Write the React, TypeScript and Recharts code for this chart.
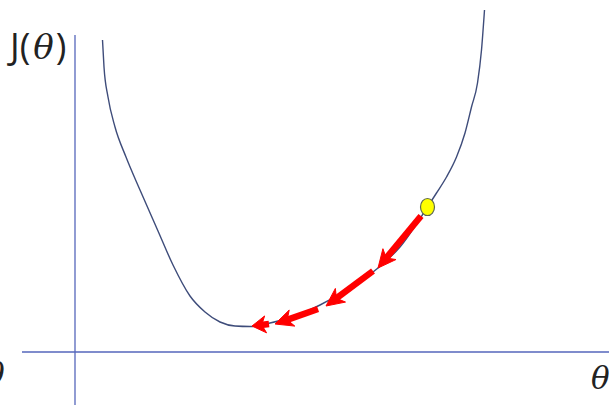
import React from 'react';
import { ComposedChart, Line, XAxis, YAxis, ReferenceLine, ReferenceDot } from 'recharts';

// cost curve J(θ)
const thetas = [0.55, 0.58, 0.66, 0.8, 1.02, 1.3, 1.66, 1.96, 2.3, 2.6, 2.9, 3.2, 3.5, 3.9, 4.4, 4.9, 5.5, 6.06, 6.5, 7.05, 7.23, 7.43, 7.63, 7.8, 7.93, 8.05, 8.13, 8.19];
const costs = [6.24, 5.7, 5.1, 4.5, 3.9, 3.24, 2.42, 1.74, 1.12, 0.8, 0.6, 0.52, 0.51, 0.58, 0.72, 0.94, 1.28, 1.68, 2.1, 2.9, 3.18, 3.5, 3.9, 4.38, 4.9, 5.38, 6.04, 6.84];

// gradient descent steps (from -> to)
const stepFromTheta = [6.92, 5.96, 4.86, 3.88];
const stepFromCost = [2.72, 1.62, 0.86, 0.56];
const stepToTheta = [6.06, 5.02, 4.0, 3.54];
const stepToCost = [1.68, 0.92, 0.56, 0.52];

const startPoint = { theta: 7.05, cost: 2.9 };

const data = thetas.map((t, i) => ({ theta: t, cost: costs[i] }));

const AXIS = '#5566bb';
const RED = '#ff0000';

const StepArrow = (props: any) => {
  const { x1, y1, x2, y2 } = props;
  const dx = x2 - x1;
  const dy = y2 - y1;
  const len = Math.hypot(dx, dy) || 1;
  const ux = dx / len;
  const uy = dy / len;
  const nx = -uy;
  const ny = ux;
  const head = Math.min(18, len * 0.8);
  const half = 8.5;
  const bx = x2 - ux * head;
  const by = y2 - uy * head;
  const kx = x2 - ux * head * 0.72;
  const ky = y2 - uy * head * 0.72;
  const pts = [
    [x2, y2],
    [bx + nx * half, by + ny * half],
    [kx, ky],
    [bx - nx * half, by - ny * half],
  ]
    .map((p) => p.join(','))
    .join(' ');
  return (
    <g>
      <line x1={x1} y1={y1} x2={kx + ux} y2={ky + uy} stroke={RED} strokeWidth={6.5} />
      <polygon points={pts} fill={RED} stroke={RED} strokeWidth={1} strokeLinejoin="round" />
    </g>
  );
};

const YellowDot = (props: any) => (
  <ellipse cx={props.cx} cy={props.cy} rx={7} ry={8.5} fill="#ffff00" stroke="#5f6a50" strokeWidth={1.2} />
);

const App: React.FC = () => {
  return (
    <div style={{ position: 'absolute', left: 0, top: 0, width: 609, height: 405, background: '#fff', overflow: 'hidden' }}>
      <ComposedChart width={609} height={405} data={data} margin={{ top: 0, right: 0, bottom: 0, left: 0 }}>
        <XAxis type="number" dataKey="theta" domain={[-1.5, 10.68]} hide allowDataOverflow />
        <YAxis type="number" domain={[-1.06, 7.04]} hide allowDataOverflow />
        <ReferenceLine
          segment={[{ x: 0, y: -1.06 }, { x: 0, y: 6.34 }]}
          stroke={AXIS}
          strokeWidth={1.3}
          ifOverflow="visible"
        />
        <ReferenceLine
          segment={[{ x: -1.06, y: 0 }, { x: 10.68, y: 0 }]}
          stroke={AXIS}
          strokeWidth={1.3}
          ifOverflow="visible"
        />
        <Line
          dataKey="cost"
          type="monotone"
          stroke="#3e4c7a"
          strokeWidth={1.4}
          dot={false}
          activeDot={false}
          isAnimationActive={false}
        />
        {stepFromTheta.map((t, i) => (
          <ReferenceLine
            key={`step-${i}`}
            segment={[{ x: t, y: stepFromCost[i] }, { x: stepToTheta[i], y: stepToCost[i] }]}
            shape={StepArrow}
            ifOverflow="visible"
          />
        ))}
        <ReferenceDot x={startPoint.theta} y={startPoint.cost} r={8} shape={YellowDot} ifOverflow="visible" />
      </ComposedChart>
      <div
        style={{
          position: 'absolute',
          left: 10,
          top: 24,
          fontSize: 36,
          lineHeight: '44px',
          fontFamily: '"Open Sans", sans-serif',
          color: '#222',
          whiteSpace: 'nowrap',
        }}
      >
        J(<span style={{ fontFamily: '"DejaVu Serif", serif', fontStyle: 'italic', fontSize: 34, margin: '0 2px 0 3px' }}>θ</span>)
      </div>
      <div
        style={{
          position: 'absolute',
          left: 591,
          top: 360,
          fontSize: 31,
          lineHeight: '36px',
          fontFamily: '"DejaVu Serif", serif',
          fontStyle: 'italic',
          color: '#222',
        }}
      >
        θ
      </div>
      <div
        style={{
          position: 'absolute',
          left: -14,
          top: 356,
          fontSize: 31,
          lineHeight: '36px',
          fontFamily: '"DejaVu Serif", serif',
          fontStyle: 'italic',
          color: '#222',
        }}
      >
        θ
      </div>
    </div>
  );
};

export default App;
